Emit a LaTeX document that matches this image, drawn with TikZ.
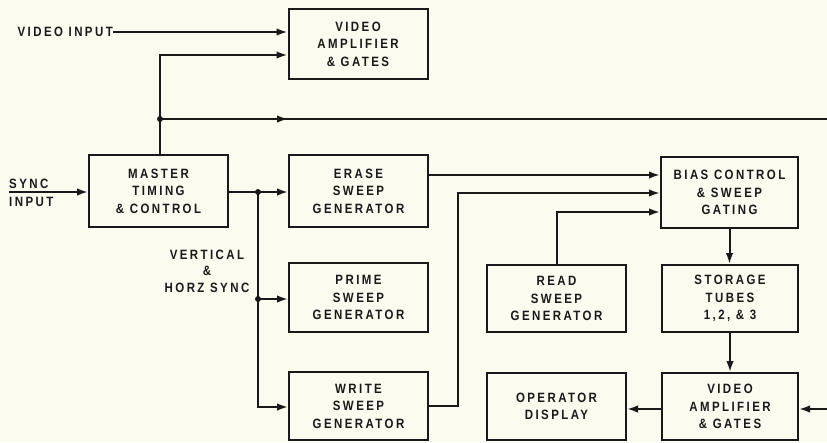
\documentclass[tikz,border=0pt]{standalone}
\usepackage{fontspec}
\setmainfont{Liberation Sans}[LetterSpace=18, FakeStretch=0.85]
\usetikzlibrary{arrows.meta}
\definecolor{paper}{RGB}{251,251,240}
\definecolor{ink}{RGB}{25,25,25}
\tikzset{
  blk/.style={draw=ink, line width=2pt, minimum width=139pt, minimum height=70pt,
    align=center, font=\bfseries\fontsize{13.5}{17.5}\selectfont, text=ink, inner sep=0pt},
  lbl/.style={align=center, font=\bfseries\fontsize{13.5}{16.5}\selectfont, text=ink, inner sep=0pt},
  arr/.style={draw=ink, line width=2pt, -{Latex[length=11pt,width=7.5pt]}},
  wire/.style={draw=ink, line width=2pt},
  dot/.style={circle, fill=ink, inner sep=0pt, minimum size=6pt}
}
\begin{document}
\begin{tikzpicture}[x=1pt,y=-1pt]
\fill[paper] (0,0) rectangle (827,442);
\useasboundingbox (0,0) rectangle (827,442);

% boxes
\node[blk] (vamp1) at (358,44) {VIDEO\\AMPLIFIER\\\& GATES};
\node[blk, minimum height=72pt] (master) at (158.5,191) {MASTER\\TIMING\\\& CONTROL};
\node[blk, minimum height=72pt] (erase) at (358.5,191) {ERASE\\SWEEP\\GENERATOR};
\node[blk, minimum height=69pt] (prime) at (358.5,297.5) {PRIME\\SWEEP\\GENERATOR};
\node[blk, minimum height=68pt] (write) at (358.5,406) {WRITE\\SWEEP\\GENERATOR};
\node[blk, minimum width=137pt, minimum height=71pt] (bias) at (729.5,192.5) {BIAS CONTROL\\\& SWEEP\\GATING};
\node[blk, minimum height=67pt] (read) at (556.5,298.5) {READ\\SWEEP\\GENERATOR};
\node[blk, minimum width=136pt, minimum height=67pt] (storage) at (730,298.5) {STORAGE\\TUBES\\1,2, \& 3};
\node[blk, minimum width=136pt, minimum height=67pt] (vamp2) at (730,406.5) {VIDEO\\AMPLIFIER\\\& GATES};
\node[blk, minimum height=67pt] (oper) at (556.5,406.5) {OPERATOR\\DISPLAY};

% labels
\node[lbl, anchor=east] (vin) at (113,32) {VIDEO INPUT};
\node[lbl, anchor=south west] (sync) at (9,189) {SYNC};
\node[lbl, anchor=north west] (syncin) at (9,197) {INPUT};
\node[lbl] (vhs) at (207,271) {VERTICAL\\\&\\HORZ SYNC};

% coordinates
\coordinate (j1) at (160,119);
\coordinate (j2) at (258,192);
\coordinate (j3) at (258,299);
\coordinate (redge1) at (827,119);
\coordinate (redge2) at (827,409);
\coordinate (sin) at (9,192);

% connectors
\draw[arr] (vin.east) -- (vin.east -| vamp1.west);
\draw[arr] (master.north -| j1) -- (160,55) -- (vamp1.west |- 0,55);
\draw[wire] (j1) -- (redge1);
\draw[arr] (j1) -- (288,119);
\node[dot] at (j1) {};

\draw[arr] (sin) -- (master.west |- sin);
\draw[arr] (master.east |- j2) -- (erase.west |- j2);
\draw[arr] (j2) -- (258,407) -- (write.west |- 0,407);
\draw[arr] (j3) -- (prime.west |- j3);
\node[dot] at (j2) {};
\node[dot] at (j3) {};

\draw[arr] (erase.east |- 0,175) -- (bias.west |- 0,175);
\draw[arr] (write.east |- 0,406) -- (458,406) -- (458,193) -- (bias.west |- 0,193);
\draw[arr] (read.north) -- (read.north |- 0,212) -- (bias.west |- 0,212);
\draw[arr] (bias.south) -- (bias.south |- storage.north);
\draw[arr] (storage.south) -- (storage.south |- vamp2.north);
\draw[arr] (vamp2.west |- 0,409) -- (oper.east |- 0,409);
\draw[arr] (redge2) -- (vamp2.east |- redge2);
\end{tikzpicture}
\end{document}
